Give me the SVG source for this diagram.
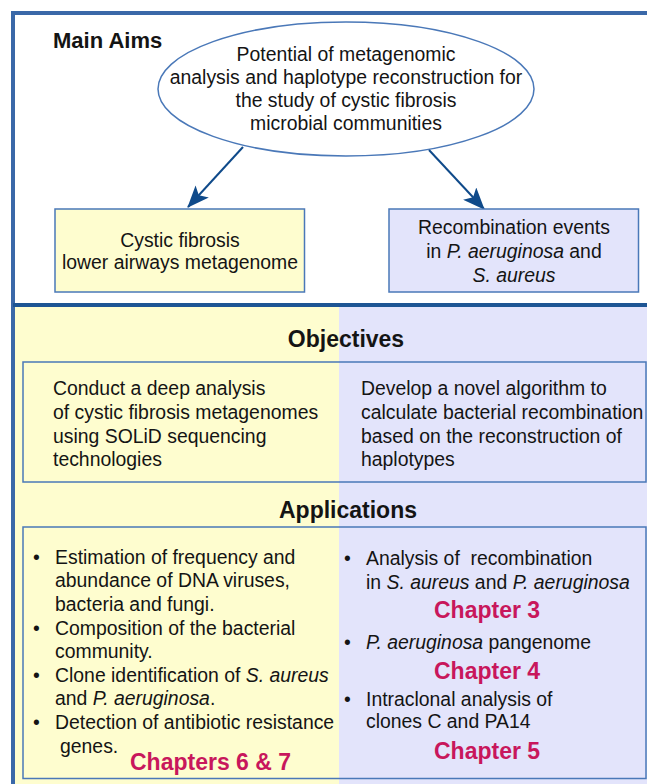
<svg xmlns="http://www.w3.org/2000/svg" width="647" height="784" viewBox="0 0 647 784">
<style>
text{font-family:"Liberation Sans",Arial,sans-serif;fill:#141414}
.t{font-size:19.4px}
.h{font-size:23px;font-weight:bold}
.c{text-anchor:middle}
.ch{font-size:23px;font-weight:bold;fill:#c8175c}
.box{stroke:#4a78b8;stroke-width:1.5}
.conn{stroke:#0f4a8a;stroke-width:2;fill:none}
</style>
<defs>
<marker id="arr" viewBox="0 0 22 18" refX="21" refY="9" markerWidth="22" markerHeight="18" orient="auto" markerUnits="userSpaceOnUse">
<path d="M0,0 L22,9 L0,18 L5,9 Z" fill="#0f4a8a"/>
</marker>
</defs>
<rect width="647" height="784" fill="#ffffff"/>
<!-- lower backgrounds -->
<rect x="15" y="307" width="324" height="477" fill="#fefdcf"/>
<rect x="339" y="307" width="308" height="477" fill="#e3e4fb"/>
<!-- frame -->
<path d="M13,784 V13 H647" fill="none" stroke="#3a68a8" stroke-width="4"/>
<line x1="13" y1="305" x2="647" y2="305" stroke="#1d5594" stroke-width="4"/>

<g id="title">
<text x="53" y="48" style="font-size:22px;font-weight:bold">Main Aims</text>
</g>

<g id="aim">
<ellipse cx="346" cy="89" rx="188" ry="67" fill="#ffffff" stroke="#4a78b8" stroke-width="1.5"/>
<text class="t c" x="346" y="61">Potential of metagenomic</text>
<text class="t c" x="346" y="84">analysis and haplotype reconstruction for</text>
<text class="t c" x="346" y="107">the study of cystic fibrosis</text>
<text class="t c" x="346" y="130">microbial communities</text>
</g>

<g id="connectors">
<line class="conn" x1="243" y1="147" x2="188" y2="207" marker-end="url(#arr)"/>
<line class="conn" x1="429" y1="150" x2="484" y2="209" marker-end="url(#arr)"/>
</g>

<g id="metagenome">
<rect class="box" x="55" y="209" width="249.5" height="83" fill="#fefdcf"/>
<text class="t c" x="180" y="247">Cystic fibrosis</text>
<text class="t c" x="180" y="269">lower airways metagenome</text>
</g>

<g id="recombination">
<rect class="box" x="389" y="209" width="249.5" height="83" fill="#e3e4fb"/>
<text class="t c" x="514" y="234">Recombination events</text>
<text class="t c" x="514" y="258">in <tspan font-style="italic">P. aeruginosa</tspan> and</text>
<text class="t c" x="514" y="282" font-style="italic">S. aureus</text>
</g>

<g id="objectives">
<text class="h c" x="346" y="347">Objectives</text>
<rect class="box" x="23" y="362" width="623" height="120" fill="none"/>
<text class="t" x="53" y="395">Conduct a deep analysis</text>
<text class="t" x="53" y="419">of cystic fibrosis metagenomes</text>
<text class="t" x="53" y="443">using SOLiD sequencing</text>
<text class="t" x="53" y="466">technologies</text>
<text class="t" x="361" y="395">Develop a novel algorithm to</text>
<text class="t" x="361" y="419">calculate bacterial recombination</text>
<text class="t" x="361" y="443">based on the reconstruction of</text>
<text class="t" x="361" y="466">haplotypes</text>
</g>

<g id="applications">
<text class="h c" x="348" y="518">Applications</text>
<rect class="box" x="23" y="527" width="623" height="251.5" fill="none"/>
<text class="t" x="33" y="564">•</text>
<text class="t" x="55" y="564">Estimation of frequency and</text>
<text class="t" x="55" y="587">abundance of DNA viruses,</text>
<text class="t" x="55" y="611">bacteria and fungi.</text>
<text class="t" x="33" y="635">•</text>
<text class="t" x="55" y="635">Composition of the bacterial</text>
<text class="t" x="55" y="658">community.</text>
<text class="t" x="33" y="682">•</text>
<text class="t" x="55" y="682">Clone identification of <tspan font-style="italic">S. aureus</tspan></text>
<text class="t" x="55" y="705">and <tspan font-style="italic">P. aeruginosa</tspan>.</text>
<text class="t" x="33" y="729">•</text>
<text class="t" x="55" y="729">Detection of antibiotic resistance</text>
<text class="t" x="60" y="753">genes.</text>
<text class="ch" x="130" y="770">Chapters 6 &amp; 7</text>

<text class="t" x="344" y="565">•</text>
<text class="t" x="366" y="565">Analysis of&#160; recombination</text>
<text class="t" x="366" y="589">in <tspan font-style="italic">S. aureus</tspan> and <tspan font-style="italic">P. aeruginosa</tspan></text>
<text class="ch" x="434" y="618">Chapter 3</text>
<text class="t" x="344" y="649">•</text>
<text class="t" x="366" y="649"><tspan font-style="italic">P. aeruginosa</tspan> pangenome</text>
<text class="ch" x="434" y="679">Chapter 4</text>
<text class="t" x="344" y="706">•</text>
<text class="t" x="366" y="706">Intraclonal analysis of</text>
<text class="t" x="366" y="728">clones C and PA14</text>
<text class="ch" x="434" y="759">Chapter 5</text>
</g>
</svg>
